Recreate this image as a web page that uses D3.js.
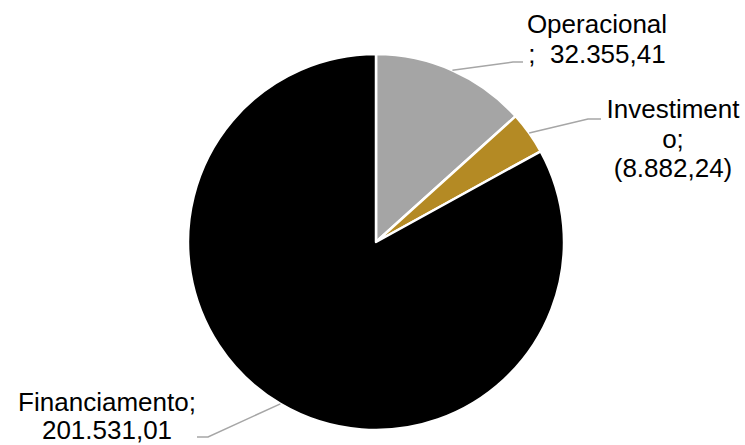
<!DOCTYPE html>
<html>
<head>
<meta charset="utf-8">
<script src="https://cdn.jsdelivr.net/npm/d3@7"></script>
<style>
  html, body { margin: 0; padding: 0; background: #fff; }
  svg { display: block; }
  text { font-family: Arial, "Liberation Sans", sans-serif; }
</style>
</head>
<body>
<svg id="chart" width="745" height="445"></svg>
<script>
// Data
const categories = ["Operacional", "Investimento", "Financiamento"];
const values = [32355.41, 8882.24, 201531.01];          // absolute values used for slice sizes
const valueLabels = ["32.355,41", "(8.882,24)", "201.531,01"];
const colors = ["#a5a5a5", "#b48a24", "#000000"];

// Label layout (text lines as wrapped in the original)
const labelLines = [
  ["Operacional", ";  32.355,41"],
  ["Investiment", "o;", "(8.882,24)"],
  ["Financiamento;", "201.531,01"]
];
const labelPos = [
  { x: 597, y: 33, lh: 29.5 },
  { x: 673, y: 118, lh: 29.5 },
  { x: 107, y: 411, lh: 28 }
];
const leaderElbow = [
  { ex: 513, ey: 62, hx: 523 },
  { ex: 588, ey: 119, hx: 601 },
  { ex: 208, ey: 437, hx: 197 }
];

const W = 745, H = 445;
const cx = 376, cy = 242, R = 188;

const svg = d3.select("#chart");
const g = svg.append("g").attr("transform", `translate(${cx},${cy})`);

const pie = d3.pie().sort(null).value(d => d);
const arcs = pie(values);
const arc = d3.arc().innerRadius(0).outerRadius(R);

g.selectAll("path.slice")
  .data(arcs)
  .join("path")
  .attr("class", "slice")
  .attr("d", arc)
  .attr("fill", (d, i) => colors[i])
  .attr("stroke", "#ffffff")
  .attr("stroke-width", 2.5)
  .attr("stroke-linejoin", "round");

// leader lines
arcs.forEach((d, i) => {
  const mid = (d.startAngle + d.endAngle) / 2;
  const sx = cx + R * Math.sin(mid);
  const sy = cy - R * Math.cos(mid);
  const e = leaderElbow[i];
  svg.append("polyline")
    .attr("points", `${sx},${sy} ${e.ex},${e.ey} ${e.hx},${e.ey}`)
    .attr("fill", "none")
    .attr("stroke", "#a6a6a6")
    .attr("stroke-width", 1.5);
});

// labels
labelLines.forEach((lines, i) => {
  const p = labelPos[i];
  const t = svg.append("text")
    .attr("x", p.x)
    .attr("y", p.y)
    .attr("text-anchor", "middle")
    .attr("font-size", 26)
    .attr("fill", "#000")
    .style("white-space", "pre");
  lines.forEach((ln, j) => {
    t.append("tspan")
      .attr("x", p.x)
      .attr("y", p.y + j * p.lh)
      .text(ln);
  });
});
</script>
</body>
</html>
